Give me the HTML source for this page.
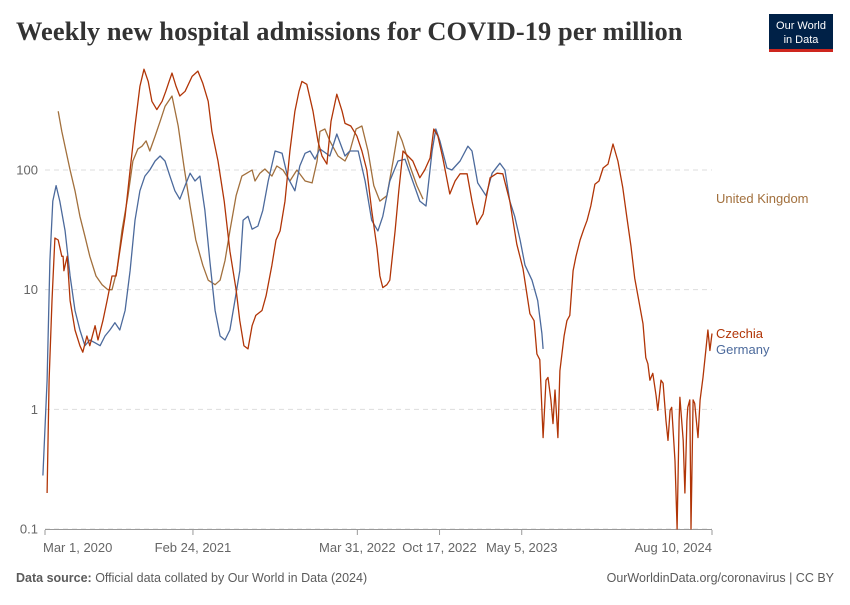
<!DOCTYPE html>
<html><head><meta charset="utf-8"><style>
body{margin:0;background:#fff;width:850px;height:600px;overflow:hidden;font-family:"Liberation Sans",sans-serif}
svg text{font-family:"Liberation Sans",sans-serif}
</style></head><body>
<svg id="chart" width="850" height="600">
<text x="16" y="40" font-weight="bold" font-size="26.4" fill="#333" style="font-family:'Liberation Serif',serif;letter-spacing:0.1px">Weekly new hospital admissions for COVID-19 per million</text>
<g>
<rect x="769" y="14" width="64" height="36" fill="#002147"/>
<rect x="769" y="49" width="64" height="3" fill="#ce261e"/>
<text x="801" y="29" text-anchor="middle" font-size="11" fill="#fff">Our World</text>
<text x="801" y="43" text-anchor="middle" font-size="11" fill="#fff">in Data</text>
</g>
<g id="grid"></g><g id="series"></g>
<text x="16" y="582" font-size="12.5" fill="#5b5b5b"><tspan font-weight="bold">Data source:</tspan> Official data collated by Our World in Data (2024)</text>
<text x="834" y="582" text-anchor="end" font-size="12.5" fill="#5b5b5b">OurWorldinData.org/coronavirus | CC BY</text>
</svg>
<script>
const yTicks=[0.1,1,10,100];
const yTickLabels=["0.1","1","10","100"];
const xTickDays=[0,360,760,960,1160,1623];
const xTickLabels=["Mar 1, 2020","Feb 24, 2021","Mar 31, 2022","Oct 17, 2022","May 5, 2023","Aug 10, 2024"];
const seriesNames=["United Kingdom","Germany","Czechia"];
const ukDays=[32,41,51,61,73,85,97,109,124,139,153,163,175,187,202,214,226,236,246,255,268,280,292,309,324,338,353,367,384,397,414,426,438,450,465,479,491,504,511,523,535,552,564,579,596,613,633,650,662,669,681,693,713,730,742,757,771,786,800,815,832,847,859,869,888,905,920];
const ukValues=[310,210,144,100,67,41,28,19,13,11,10,10,14.4,31,61,119,150,158,175,144,192,255,340,415,233,108,50,26,16,12,11,12,17.5,31,61,89,94,100,81,94,102,89,108,100,81,100,81,78,119,210,220,175,131,119,144,220,233,144,74,55,61,119,210,175,108,74,57];
const deDays=[-5,5,12,19,27,36,49,61,73,85,97,109,122,134,146,158,170,182,195,207,219,231,243,255,268,280,292,304,316,328,341,353,365,377,389,401,414,426,438,450,462,474,482,494,504,518,530,543,560,577,591,608,620,633,645,657,669,693,710,730,742,762,779,795,810,822,839,859,876,893,912,927,942,951,961,978,990,1010,1029,1039,1053,1073,1088,1107,1119,1131,1143,1156,1168,1185,1199,1209,1212];
const deValues=[0.28,1.75,17.5,55,74,55,31,13,6.7,4.6,3.4,3.8,3.6,3.4,4.1,4.6,5.3,4.6,6.7,14.4,38,67,89,100,119,131,119,89,67,57,74,94,81,89,46,17.5,6.7,4.1,3.8,4.6,8.1,14.4,38,41,32,34,46,81,144,138,86,67,108,138,144,123,150,131,200,131,144,144,81,38,31,41,81,119,123,84,55,50,144,220,175,104,100,119,158,144,78,61,94,114,100,55,41,26,16,12,8.1,4.3,3.2];
const czDays=[5,10,17,24,32,41,44,46,54,61,73,85,92,102,109,122,129,141,151,163,173,182,195,207,219,231,241,251,260,272,285,294,302,309,319,328,341,358,372,384,397,406,421,436,450,465,474,484,494,504,513,528,538,552,562,572,584,596,608,618,625,637,652,664,674,686,696,710,723,730,744,759,771,783,795,808,815,822,832,839,852,861,871,883,895,912,924,937,946,956,968,985,998,1010,1027,1039,1051,1066,1083,1100,1114,1131,1148,1163,1180,1190,1197,1204,1212,1219,1224,1231,1236,1241,1248,1253,1263,1270,1277,1285,1292,1302,1311,1319,1328,1338,1348,1358,1370,1382,1394,1406,1416,1426,1435,1445,1455,1462,1467,1472,1479,1487,1491,1499,1504,1511,1516,1521,1525,1533,1538,1543,1545,1553,1557,1562,1564,1569,1572,1577,1581,1589,1594,1601,1608,1613,1618,1623];
const czValues=[0.2,1.75,8.1,27,26,19,19,14.4,19,8.1,4.6,3.4,3.0,4.1,3.4,5,3.8,5.5,8.1,13,13,21,41,100,233,500,695,550,375,320,375,455,550,645,500,415,455,605,670,530,375,210,119,55,21,10,5.5,3.4,3.2,5,6.1,6.7,8.9,16,26,31,55,144,310,455,550,520,310,175,131,112,255,430,310,245,233,192,144,100,46,22,13,10.4,11,12,31,67,144,131,119,86,100,126,220,192,126,63,81,93,93,55,35,43,86,94,93,55,24,15,6.3,5.5,2.9,2.6,0.58,1.75,1.85,1.2,0.76,1.45,0.58,2.1,4.1,5.5,6.1,14.4,19,26,32,38,50,76,81,104,112,165,119,71,40,23,12.5,8.1,5.2,2.7,2.4,1.75,2.0,1.3,0.98,1.75,1.65,0.8,0.55,0.98,1.04,0.37,0.1,0.8,1.26,0.55,0.2,0.8,1.04,1.2,0.1,1.2,1.12,0.58,1.2,1.85,3.1,4.6,3.1,4.3];
const NS="http://www.w3.org/2000/svg";
const X0=45,X1=712,D0=0,D1=1623,Y0=529,Y1=170;
function xs(d){return X0+(d-D0)/(D1-D0)*(X1-X0);}
function ys(v){return Y0-(Math.log10(v)+1)/3*(Y0-Y1);}
function mk(tag,attrs,parent){const e=document.createElementNS(NS,tag);for(const k in attrs)e.setAttribute(k,attrs[k]);parent.appendChild(e);return e;}
const grid=document.getElementById('grid');
yTicks.forEach((v,i)=>{
  const l=mk('line',{x1:45,x2:712,y1:ys(v),y2:ys(v),stroke:'#ddd','stroke-dasharray':'5,4'},grid);
  
  
  const t=mk('text',{x:38,y:ys(v)+4.5,'text-anchor':'end','font-size':'13',fill:'#666'},grid);
  t.textContent=yTickLabels[i];
  
  
});
const ax=mk('line',{x1:45,x2:712,y1:529.5,y2:529.5,stroke:'#999'},grid);


xTickDays.forEach((d,i)=>{
  const x=xs(d);
  const tk=mk('line',{x1:x,x2:x,y1:530,y2:535,stroke:'#999'},grid);
  
  
  const anchor=i===0?'start':(i===xTickDays.length-1?'end':'middle');
  const t=mk('text',{x:i===0?x-2:x,y:552,'text-anchor':anchor,'font-size':'13',fill:'#666'},grid);
  t.textContent=xTickLabels[i];
  
  
});
const sg=document.getElementById('series');
const all=[[ukDays,ukValues,'#a2703d',199],[deDays,deValues,'#4c6a9c',350],[czDays,czValues,'#b13507',334]];
all.forEach((s,i)=>{
  const pts=s[0].map((d,j)=>xs(d).toFixed(1)+','+ys(s[1][j]).toFixed(1)).join(' ');
  const p=mk('polyline',{points:pts,fill:'none',stroke:s[2],'stroke-width':1.3,'stroke-linejoin':'round'},sg);
  
  
  const t=mk('text',{x:716,y:s[3]+4,'font-size':'13',fill:s[2]},sg);
  t.textContent=seriesNames[i];
  
  
});
</script>
</body></html>
